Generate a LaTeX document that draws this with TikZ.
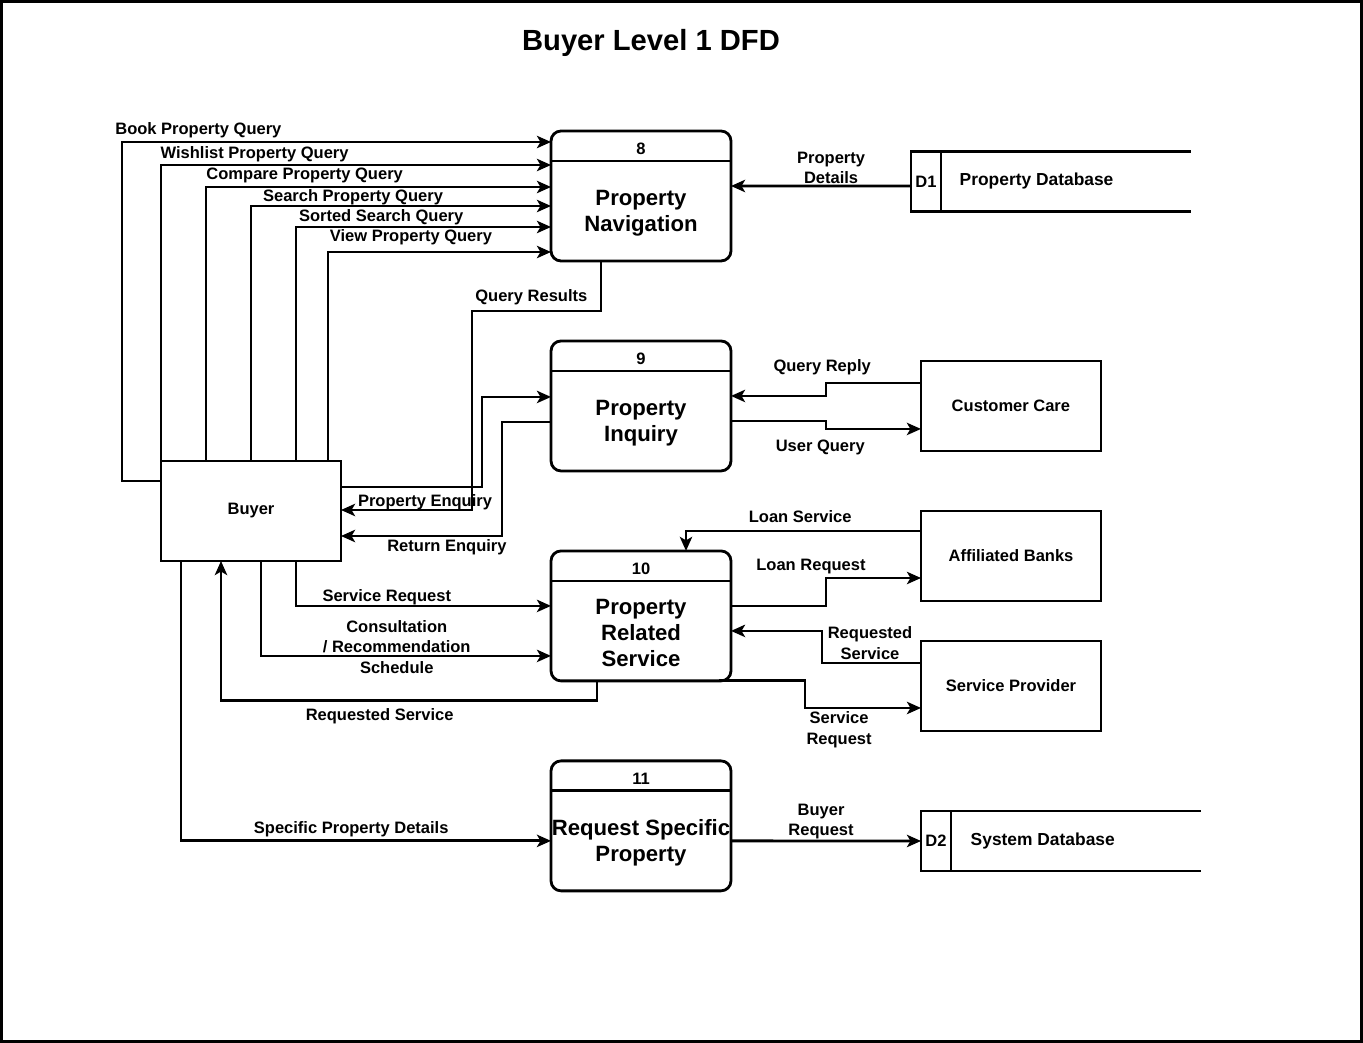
\documentclass[tikz,border=0pt]{standalone}
\usepackage{fontspec}
\setmainfont{Liberation Sans}
\usepackage{tikz}
\usetikzlibrary{positioning,arrows.meta,calc}

\begin{document}
\begin{tikzpicture}[
    x=0.02cm, y=0.02cm,
    font=\bfseries\fontsize{9.4}{11.7}\selectfont,
    process/.style={rectangle, draw=black, line width=1.6pt, rounded corners=0.2cm, outer sep=0pt, minimum width=3.6cm, minimum height=2.6cm},
    entity/.style={rectangle, draw=black, line width=1.6pt, outer sep=0pt, minimum width=3.6cm, minimum height=1.8cm, align=center},
    store/.style={rectangle, outer sep=0pt, inner sep=0pt, minimum width=5.6cm, minimum height=1.2cm},
    ptext/.style={align=center, font=\bfseries\fontsize{12.6}{15}\selectfont},
    flowlabel/.style={align=center, inner sep=1pt, yshift=-0.04cm},
    plain/.style={line width=1.6pt},
    arrow/.style={->, >={Stealth[length=8pt,width=7pt,inset=2pt]}, line width=1.6pt}
]
\useasboundingbox (0,0) rectangle (1363,-1043);
\draw[line width=0.07cm] (1.7,-1.7) rectangle (1361.3,-1041.3);

\node[font=\bfseries\fontsize{16.6}{20}\selectfont] (title) at (651,-43) {Buyer Level 1 DFD};

% Processes
\node[process] (nav) at (641,-196) {};
\node[process, below=1.6cm of nav] (inq) {};
\node[process, below=1.6cm of inq] (srv) {};
\node[process, below=1.6cm of srv] (req) {};

\node[ptext] (navtext) at ($(nav.center)+(0,-17)$) {Property\\Navigation};
\node[ptext] (inqtext) at ($(inq.center)+(0,-17)$) {Property\\Inquiry};
\node[ptext] (srvtext) at ($(srv.center)+(0,-17)$) {Property\\Related\\Service};
\node[ptext] (reqtext) at ($(req.center)+(0,-17)$) {Request Specific\\Property};

\node (navnum) at ($(nav.north)+(0,-18)$) {8};
\node (inqnum) at ($(inq.north)+(0,-18)$) {9};
\node (srvnum) at ($(srv.north)+(0,-18)$) {10};
\node (reqnum) at ($(req.north)+(0,-18)$) {11};

\foreach \p in {nav,inq,srv,req}
    \draw[plain] ($(\p.north west)+(0,-30)$) -- ($(\p.north east)+(0,-30)$);

% External entities
\node[entity, minimum height=2cm] (buyer) at (251,-511) {Buyer};
\node[entity, right=3.8cm of inq] (care) {Customer Care};
\node[entity] (banks) at (1011,-556) {Affiliated Banks};
\node[entity, below=0.8cm of banks] (provider) {Service Provider};

% Data stores
\node[store] (d1) at (1051,-181.5) {};
\node[store] (d2) at (1061,-841) {};
\foreach \s in {d1,d2} {
    \draw[plain] (\s.north east) -- (\s.north west) -- (\s.south west) -- (\s.south east);
    \draw[plain] ($(\s.north west)+(30,0)$) -- ($(\s.south west)+(30,0)$);
}
\node (d1id) at ($(d1.west)+(15,0)$) {D1};
\node[anchor=west, font=\bfseries\fontsize{9.9}{12}\selectfont] (d1name) at ($(d1.west)+(42.5,0)$) {Property Database};
\node (d2id) at ($(d2.west)+(15,0)$) {D2};
\node[anchor=west, font=\bfseries\fontsize{9.9}{12}\selectfont] (d2name) at ($(d2.west)+(43.5,0)$) {System Database};

% Queries to property navigation
\draw[arrow] ($(buyer.west)+(0,30)$) -- ++(-39,0) |- node[flowlabel, pos=0.589, yshift=0.28cm] {Book Property Query} ($(nav.west)+(0,54)$);
\draw[arrow] (buyer.north west) |- node[flowlabel, pos=0.62, yshift=0.26cm] {Wishlist Property Query} ($(nav.west)+(0,31)$);
\draw[arrow] ($(buyer.north)+(-45,0)$) |- node[flowlabel, pos=0.643, yshift=0.28cm] {Compare Property Query} ($(nav.west)+(0,9)$);
\draw[arrow] (buyer.north) |- node[flowlabel, pos=0.67, yshift=0.22cm] {Search Property Query} ($(nav.west)+(0,-10)$);
\draw[arrow] ($(buyer.north)+(45,0)$) |- node[flowlabel, pos=0.667, yshift=0.24cm] {Sorted Search Query} ($(nav.west)+(0,-31)$);
\draw[arrow] ($(buyer.north)+(77,0)$) |- node[flowlabel, pos=0.686, yshift=0.34cm] {View Property Query} ($(nav.west)+(0,-56)$);
\draw[arrow] ($(d1.west)+(0,-4.5)$) -- node[flowlabel, pos=0.444, yshift=0.4cm] {Property\\Details} ($(nav.east)+(0,10)$);
\draw[arrow] ($(nav.south)+(-40,0)$) -- ++(0,-50) -- node[flowlabel, pos=0.54, yshift=0.32cm] {Query Results} ++(-129,0) |- ($(buyer.east)+(0,1)$);

% Property inquiry
\draw[arrow] ($(buyer.east)+(0,24)$) -- node[flowlabel, pos=0.596, yshift=-0.26cm] {Property Enquiry} ++(141,0) |- ($(inq.west)+(0,9)$);
\draw[arrow] ($(inq.west)+(0,-16)$) -- ++(-49,0) |- node[flowlabel, pos=0.671, yshift=-0.18cm] {Return Enquiry} ($(buyer.east)+(0,-25)$);
\draw[arrow] ($(care.west)+(0,23)$) -- node[flowlabel, pos=1.04, yshift=0.36cm] {Query Reply} ++(-95,0) |- ($(inq.east)+(0,10)$);
\draw[arrow] ($(inq.east)+(0,-15)$) -- node[flowlabel, pos=0.94, yshift=-0.48cm] {User Query} ++(95,0) |- ($(care.west)+(0,-23)$);

% Property related service
\draw[arrow] ($(banks.west)+(0,25)$) -| node[flowlabel, pos=0.257, yshift=0.32cm] {Loan Service} ($(srv.north)+(45,0)$);
\draw[arrow] ($(srv.east)+(0,10)$) -- node[flowlabel, pos=0.842, yshift=0.82cm] {Loan Request} ++(95,0) |- ($(banks.west)+(0,-22)$);
\draw[arrow] ($(provider.west)+(0,23)$) -- node[flowlabel, pos=0.515, yshift=0.44cm] {Requested\\Service} ++(-99,0) |- ($(srv.east)+(0,-15)$);
\draw[arrow] ($(srv.south east)+(-12,0)$) -- ++(86,0) |- node[flowlabel, pos=0.647, yshift=-0.4cm] {Service\\Request} ($(provider.west)+(0,-22)$);
\draw[arrow] ($(buyer.south)+(45,0)$) |- node[flowlabel, pos=0.678, yshift=0.22cm] {Service Request} ($(srv.west)+(0,10)$);
\draw[arrow] ($(buyer.south)+(10,0)$) |- node[flowlabel, pos=0.734, yshift=0.22cm] {Consultation\\/ Recommendation\\Schedule} ($(srv.west)+(0,-40)$);
\draw[arrow] ($(srv.south)+(-44,0)$) -- ++(0,-20) -| node[flowlabel, pos=0.289, yshift=-0.26cm] {Requested Service} ($(buyer.south)+(-30,0)$);

% Specific property request
\draw[arrow] ($(buyer.south)+(-70,0)$) |- node[flowlabel, pos=0.73, yshift=0.28cm] {Specific Property Details} ($(req.west)+(0,-15)$);
\draw[arrow] ($(req.east)+(0,-15)$) -- node[flowlabel, pos=0.474, yshift=0.43cm] {Buyer\\Request} (d2.west);
\end{tikzpicture}
\end{document}
